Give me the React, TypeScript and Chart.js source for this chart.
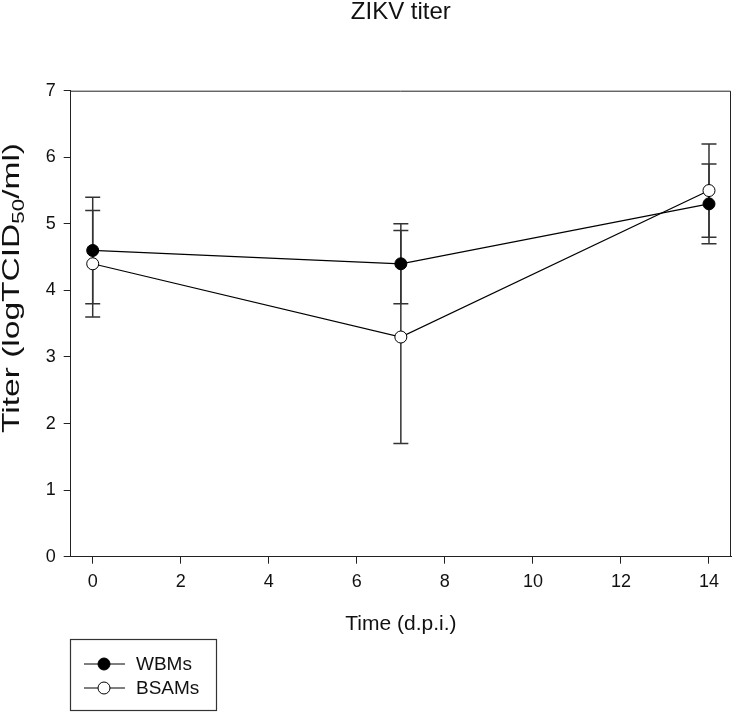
import React, { useEffect, useRef } from "react";
import { Chart, registerables } from "chart.js";

Chart.register(...registerables);

// ---- data ----
const days = [0, 7, 14];
const wbmsMean = [4.6, 4.4, 5.3];
const wbmsErr = [0.8, 0.6, 0.6];
const bsamsMean = [4.4, 3.3, 5.5];
const bsamsErr = [0.8, 1.6, 0.7];
const seriesNames = ["WBMs", "BSAMs"];
const chartTitle = "ZIKV titer";
const xTitle = "Time (d.p.i.)";
const yTitleParts = ["Titer (logTCID", "50", "/ml)"];
const xMin = -0.5;
const xMax = 14.5;
const xStep = 2;
const yMin = 0;
const yMax = 7;
const yStep = 1;

const FONT = "'Liberation Sans', Arial, sans-serif";
const AXIS = "#222";

const errorBarPlugin = {
  id: "errorBars",
  beforeDatasetsDraw(chart: any) {
    const ctx = chart.ctx;
    const xs = chart.scales.x;
    const ys = chart.scales.y;
    const sets = [
      { m: wbmsMean, e: wbmsErr },
      { m: bsamsMean, e: bsamsErr },
    ];
    ctx.save();
    ctx.strokeStyle = "#333";
    ctx.lineWidth = 1.5;
    for (const s of sets) {
      days.forEach((d, i) => {
        const px = xs.getPixelForValue(d);
        const top = ys.getPixelForValue(s.m[i] + s.e[i]);
        const bot = ys.getPixelForValue(s.m[i] - s.e[i]);
        ctx.beginPath();
        ctx.moveTo(px, top);
        ctx.lineTo(px, bot);
        ctx.moveTo(px - 7.5, top);
        ctx.lineTo(px + 7.5, top);
        ctx.moveTo(px - 7.5, bot);
        ctx.lineTo(px + 7.5, bot);
        ctx.stroke();
      });
    }
    ctx.restore();
  },
};

const decorPlugin = {
  id: "decor",
  afterDraw(chart: any) {
    const ctx = chart.ctx;
    const a = chart.chartArea;
    const cx = (a.left + a.right) / 2;
    ctx.save();
    // frame top & right
    ctx.strokeStyle = AXIS;
    ctx.lineWidth = 1;
    ctx.beginPath();
    ctx.moveTo(a.left, a.top + 0.5);
    ctx.lineTo(a.right - 0.5, a.top + 0.5);
    ctx.lineTo(a.right - 0.5, a.bottom);
    ctx.stroke();

    ctx.fillStyle = "#111";
    // title
    ctx.font = `24px ${FONT}`;
    ctx.textAlign = "center";
    ctx.textBaseline = "alphabetic";
    ctx.fillText(chartTitle, cx, 19);

    // x title
    ctx.font = `21px ${FONT}`;
    ctx.fillText(xTitle, cx, 630);

    // y title (rotated, with subscript), stretched to the reference length
    const big = `24px ${FONT}`;
    const small = `16px ${FONT}`;
    ctx.font = big;
    const w1 = ctx.measureText(yTitleParts[0]).width;
    const w3 = ctx.measureText(yTitleParts[2]).width;
    ctx.font = small;
    const w2 = ctx.measureText(yTitleParts[1]).width;
    const total = w1 + w2 + w3;
    const targetLen = 290;
    ctx.translate(18.5, 288);
    ctx.rotate(-Math.PI / 2);
    ctx.scale(targetLen / total, 1);
    ctx.textAlign = "left";
    let x = -total / 2;
    ctx.font = big;
    ctx.fillText(yTitleParts[0], x, 0);
    x += w1;
    ctx.font = small;
    ctx.fillText(yTitleParts[1], x, 5);
    x += w2;
    ctx.font = big;
    ctx.fillText(yTitleParts[2], x, 0);
    ctx.restore();

    // legend
    ctx.save();
    ctx.strokeStyle = "#333";
    ctx.lineWidth = 1.2;
    ctx.strokeRect(70.5, 639.5, 146, 71);
    const rows = [
      { y: 664, fill: "#000" },
      { y: 688, fill: "#fff" },
    ];
    rows.forEach((r, i) => {
      ctx.strokeStyle = "#000";
      ctx.lineWidth = 1;
      ctx.beginPath();
      ctx.moveTo(84, r.y);
      ctx.lineTo(125, r.y);
      ctx.stroke();
      ctx.beginPath();
      ctx.arc(104, r.y, 6, 0, Math.PI * 2);
      ctx.fillStyle = r.fill;
      ctx.fill();
      ctx.stroke();
      ctx.fillStyle = "#111";
      ctx.font = `19px ${FONT}`;
      ctx.textAlign = "left";
      ctx.textBaseline = "middle";
      ctx.fillText(seriesNames[i], 136, r.y + 1);
    });
    ctx.restore();
  },
};

export default function App() {
  const ref = useRef<HTMLCanvasElement>(null);
  useEffect(() => {
    if (!ref.current) return;
    const chart = new Chart(ref.current, {
      type: "line",
      data: {
        datasets: [
          {
            label: seriesNames[0],
            data: days.map((d, i) => ({ x: d, y: wbmsMean[i] })),
            borderColor: "#000",
            borderWidth: 1.2,
            pointRadius: 6,
            pointBackgroundColor: "#000",
            pointBorderColor: "#000",
            pointBorderWidth: 1,
            tension: 0,
          },
          {
            label: seriesNames[1],
            data: days.map((d, i) => ({ x: d, y: bsamsMean[i] })),
            borderColor: "#000",
            borderWidth: 1.2,
            pointRadius: 6,
            pointBackgroundColor: "#fff",
            pointBorderColor: "#000",
            pointBorderWidth: 1,
            tension: 0,
          },
        ],
      },
      options: {
        responsive: false,
        animation: false,
        devicePixelRatio: 1,
        layout: { padding: { top: 90.7, right: 2, left: 0, bottom: 712 - 556.7 - 40 } },
        plugins: {
          legend: { display: false },
          title: { display: false },
          tooltip: { enabled: false },
        },
        scales: {
          x: {
            type: "linear",
            min: xMin,
            max: xMax,
            afterFit: (s: any) => {
              s.height = 40;
            },
            afterBuildTicks: (s: any) => {
              const t = [];
              for (let v = 0; v <= 14; v += xStep) t.push({ value: v });
              s.ticks = t;
            },
            ticks: {
              color: "#111",
              font: { family: FONT, size: 18 },
              padding: 8,
              maxRotation: 0,
            },
            grid: {
              drawOnChartArea: false,
              drawTicks: true,
              tickLength: 7,
              color: AXIS,
              tickColor: AXIS,
            },
            border: { display: true, color: AXIS, width: 1 },
          },
          y: {
            min: yMin,
            max: yMax,
            afterFit: (s: any) => {
              s.width = 70.7;
            },
            ticks: {
              stepSize: yStep,
              color: "#111",
              font: { family: FONT, size: 18 },
              padding: 8,
            },
            grid: {
              drawOnChartArea: false,
              drawTicks: true,
              tickLength: 7,
              color: AXIS,
              tickColor: AXIS,
            },
            border: { display: true, color: AXIS, width: 1 },
          },
        },
      },
      plugins: [errorBarPlugin, decorPlugin],
    });
    return () => chart.destroy();
  }, []);
  return (
    <div style={{ position: "absolute", left: 0, top: 0, width: 738, height: 712, background: "#fff" }}>
      <canvas ref={ref} width={738} height={712} />
    </div>
  );
}
